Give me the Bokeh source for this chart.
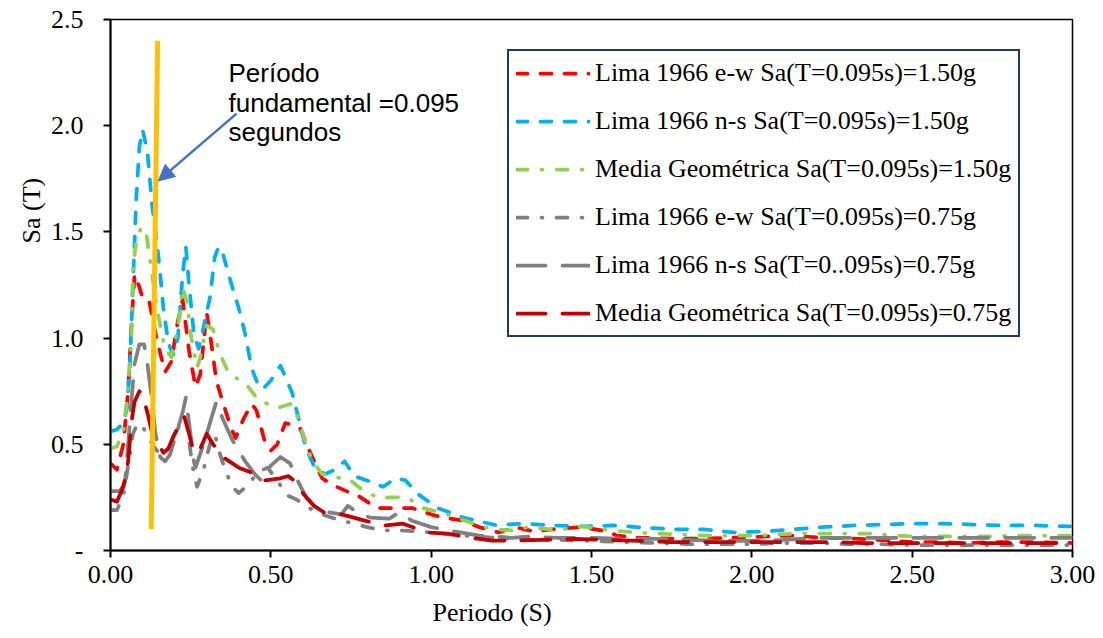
import math
from bokeh.plotting import figure
from bokeh.models import Range1d, FixedTicker, Label, Arrow, NormalHead, NumeralTickFormatter, Title
from bokeh.embed import file_html
from bokeh.resources import INLINE

# ---------------- data ----------------
t_ew150 = [0.00, 0.02, 0.04, 0.055, 0.065, 0.075, 0.09, 0.10, 0.12, 0.13, 0.145, 0.17, 0.19, 0.21, 0.225,
           0.245, 0.265, 0.28, 0.30, 0.315, 0.33, 0.35, 0.375, 0.39, 0.415, 0.44, 0.455, 0.48, 0.50, 0.52,
           0.545, 0.57, 0.59, 0.62, 0.66, 0.69, 0.75, 0.77, 0.83, 0.94, 1.01, 1.04, 1.10, 1.15, 1.21, 1.26,
           1.32, 1.38, 1.47, 1.55, 1.58, 1.65, 1.75, 1.85, 1.94, 2.04, 2.13, 2.22, 2.32, 2.43, 2.50, 2.59,
           2.67, 2.75, 2.86, 3.00]
sa_ew150 = [0.41, 0.38, 0.50, 0.75, 1.05, 1.30, 1.24, 1.19, 1.18, 1.10, 0.99, 0.84, 0.89, 1.08, 1.18,
            0.94, 0.77, 0.83, 1.12, 0.97, 0.80, 0.70, 0.58, 0.53, 0.62, 0.69, 0.66, 0.52, 0.47, 0.50,
            0.60, 0.59, 0.58, 0.47, 0.34, 0.31, 0.27, 0.26, 0.20, 0.20, 0.165, 0.155, 0.14, 0.11, 0.085, 0.11,
            0.09, 0.10, 0.11, 0.09, 0.07, 0.06, 0.056, 0.056, 0.06, 0.066, 0.07, 0.06, 0.056, 0.047, 0.04, 0.04,
            0.035, 0.04, 0.04, 0.035]

t_ns150 = [0.00, 0.02, 0.04, 0.05, 0.06, 0.07, 0.08, 0.09, 0.10, 0.115, 0.13, 0.145, 0.155, 0.165, 0.18,
           0.195, 0.21, 0.225, 0.235, 0.245, 0.26, 0.275, 0.29, 0.31, 0.325, 0.337, 0.35, 0.374, 0.40, 0.42,
           0.44, 0.46, 0.475, 0.50, 0.53, 0.55, 0.567, 0.59, 0.61, 0.64, 0.67, 0.70, 0.73, 0.76, 0.80, 0.85,
           0.89, 0.92, 0.955, 1.02, 1.10, 1.20, 1.29, 1.38, 1.475, 1.57, 1.66, 1.755, 1.85, 1.94, 2.04, 2.13,
           2.22, 2.32, 2.41, 2.50, 2.60, 2.69, 2.78, 2.88, 3.00]
sa_ns150 = [0.56, 0.57, 0.60, 0.66, 0.85, 1.25, 1.65, 1.90, 1.98, 1.88, 1.62, 1.45, 1.30, 1.14, 0.98,
            0.92, 1.00, 1.30, 1.43, 1.25, 1.02, 0.95, 1.05, 1.19, 1.38, 1.43, 1.40, 1.27, 1.14, 1.02,
            0.86, 0.78, 0.76, 0.80, 0.87, 0.80, 0.74, 0.60, 0.48, 0.38, 0.36, 0.38, 0.42, 0.35, 0.33, 0.30,
            0.34, 0.33, 0.27, 0.20, 0.155, 0.12, 0.127, 0.118, 0.113, 0.118, 0.108, 0.10, 0.10, 0.085, 0.09, 0.10,
            0.11, 0.118, 0.122, 0.127, 0.127, 0.122, 0.118, 0.118, 0.113]

t_gm150 = [0.00, 0.02, 0.04, 0.05, 0.06, 0.065, 0.07, 0.08, 0.095, 0.11, 0.12, 0.13, 0.145, 0.16, 0.17,
           0.19, 0.21, 0.225, 0.24, 0.25, 0.27, 0.28, 0.30, 0.32, 0.34, 0.37, 0.42, 0.46, 0.52, 0.56, 0.575,
           0.59, 0.61, 0.63, 0.66, 0.72, 0.74, 0.79, 0.84, 0.87, 0.925, 0.975, 1.05, 1.13, 1.19, 1.26, 1.30,
           1.37, 1.41, 1.47, 1.49, 1.56, 1.64, 1.71, 1.78, 1.85, 1.93, 2.00, 2.08, 2.14, 2.22, 2.30, 2.38,
           2.44, 2.52, 2.59, 2.67, 2.73, 2.82, 2.89, 3.00]
sa_gm150 = [0.48, 0.49, 0.56, 0.69, 0.89, 0.99, 1.33, 1.45, 1.52, 1.51, 1.40, 1.30, 1.14, 1.02, 0.95,
            0.91, 1.05, 1.24, 1.16, 1.02, 0.86, 0.91, 1.06, 1.04, 0.93, 0.83, 0.79, 0.71, 0.67, 0.69, 0.66,
            0.60, 0.50, 0.42, 0.36, 0.34, 0.34, 0.28, 0.245, 0.25, 0.25, 0.20, 0.17, 0.127, 0.10, 0.094, 0.11,
            0.10, 0.10, 0.113, 0.11, 0.094, 0.085, 0.08, 0.075, 0.07, 0.07, 0.07, 0.075, 0.08, 0.08, 0.08, 0.08,
            0.07, 0.066, 0.066, 0.066, 0.066, 0.07, 0.07, 0.07]

t_ew075 = [0.00, 0.02, 0.04, 0.05, 0.06, 0.07, 0.085, 0.10, 0.115, 0.13, 0.15, 0.17, 0.19, 0.22, 0.24,
           0.255, 0.27, 0.29, 0.31, 0.325, 0.34, 0.36, 0.38, 0.40, 0.43, 0.46, 0.49, 0.52, 0.55, 0.58, 0.62,
           0.66, 0.70, 0.75, 0.80, 0.85, 0.90, 0.95, 1.00, 1.10, 1.20, 1.30, 1.40, 1.50, 1.60, 1.70, 1.80,
           1.90, 2.00, 2.10, 2.20, 2.30, 2.40, 2.50, 2.60, 2.70, 2.80, 2.90, 3.00]
sa_ew075 = [0.19, 0.19, 0.26, 0.35, 0.45, 0.55, 0.60, 0.58, 0.55, 0.50, 0.46, 0.45, 0.52, 0.60, 0.58,
            0.40, 0.30, 0.38, 0.50, 0.55, 0.46, 0.37, 0.30, 0.27, 0.31, 0.37, 0.39, 0.33, 0.26, 0.24, 0.20,
            0.17, 0.15, 0.13, 0.11, 0.095, 0.095, 0.09, 0.085, 0.07, 0.06, 0.05, 0.05, 0.045, 0.04, 0.035, 0.03,
            0.03, 0.03, 0.035, 0.035, 0.03, 0.03, 0.025, 0.025, 0.025, 0.025, 0.025, 0.025]

t_ns075 = [0.00, 0.03, 0.045, 0.055, 0.065, 0.075, 0.09, 0.105, 0.115, 0.13, 0.14, 0.155, 0.17, 0.185,
           0.205, 0.225, 0.235, 0.245, 0.26, 0.265, 0.29, 0.31, 0.33, 0.35, 0.38, 0.42, 0.45, 0.47, 0.50,
           0.53, 0.56, 0.58, 0.61, 0.635, 0.68, 0.72, 0.74, 0.78, 0.81, 0.87, 0.90, 0.94, 1.00, 1.09, 1.15,
           1.25, 1.30, 1.40, 1.50, 1.60, 1.70, 1.80, 1.90, 2.00, 2.10, 2.20, 2.30, 2.40, 2.50, 2.60, 2.70,
           2.80, 2.90, 3.00]
sa_ns075 = [0.28, 0.28, 0.32, 0.50, 0.70, 0.88, 0.97, 0.97, 0.88, 0.70, 0.55, 0.44, 0.42, 0.45,
            0.55, 0.65, 0.72, 0.60, 0.42, 0.39, 0.50, 0.60, 0.70, 0.62, 0.52, 0.42, 0.36, 0.33, 0.40,
            0.44, 0.41, 0.34, 0.25, 0.21, 0.18, 0.17, 0.21, 0.17, 0.155, 0.15, 0.18, 0.14, 0.11, 0.085, 0.07,
            0.06, 0.065, 0.06, 0.06, 0.055, 0.055, 0.05, 0.045, 0.045, 0.05, 0.06, 0.06, 0.06, 0.06, 0.06, 0.06,
            0.06, 0.06, 0.06]

t_gm075 = [0.00, 0.02, 0.04, 0.055, 0.065, 0.075, 0.09, 0.10, 0.115, 0.13, 0.15, 0.165, 0.18, 0.20, 0.23,
           0.245, 0.26, 0.28, 0.30, 0.32, 0.35, 0.38, 0.40, 0.45, 0.48, 0.53, 0.555, 0.58, 0.60, 0.635, 0.665,
           0.72, 0.77, 0.82, 0.86, 0.91, 0.96, 0.99, 1.05, 1.12, 1.19, 1.25, 1.35, 1.45, 1.55, 1.65, 1.75,
           1.85, 1.95, 2.05, 2.15, 2.25, 2.35, 2.45, 2.55, 2.65, 2.75, 2.85, 3.00]
sa_gm075 = [0.24, 0.23, 0.30, 0.42, 0.60, 0.70, 0.75, 0.73, 0.65, 0.55, 0.50, 0.46, 0.48, 0.55, 0.63,
            0.55, 0.46, 0.48, 0.55, 0.50, 0.44, 0.41, 0.39, 0.36, 0.33, 0.34, 0.35, 0.32, 0.27, 0.21, 0.18,
            0.17, 0.15, 0.13, 0.118, 0.127, 0.10, 0.085, 0.08, 0.06, 0.047, 0.047, 0.05, 0.055, 0.05, 0.045, 0.04,
            0.04, 0.04, 0.04, 0.04, 0.04, 0.035, 0.035, 0.035, 0.035, 0.035, 0.035, 0.035]

series_labels = [
    "Lima 1966 e-w Sa(T=0.095s)=1.50g",
    "Lima 1966 n-s Sa(T=0.095s)=1.50g",
    "Media Geométrica Sa(T=0.095s)=1.50g",
    "Lima 1966 e-w Sa(T=0.095s)=0.75g",
    "Lima 1966 n-s Sa(T=0..095s)=0.75g",
    "Media Geométrica Sa(T=0.095s)=0.75g",
]
x_ticks = [0.0, 0.5, 1.0, 1.5, 2.0, 2.5, 3.0]
y_ticks = [0.0, 0.5, 1.0, 1.5, 2.0, 2.5]
x_title = "Periodo (S)"
y_title = "Sa (T)"

# fundamental period marker line and annotation
marker_x = [0.127, 0.147]
marker_y = [0.10, 2.40]
note_lines = ["Período", "fundamental =0.095", "segundos"]

# ---------------- figure ----------------
p = figure(width=1103, height=638, output_backend="svg", toolbar_location=None,
           x_range=Range1d(0, 3), y_range=Range1d(0, 2.5),
           min_border_left=110, min_border_right=31, min_border_top=19, min_border_bottom=88)
p.background_fill_color = "white"
p.border_fill_color = "white"
p.grid.visible = False
p.outline_line_color = "black"
p.outline_line_width = 1.5

p.xaxis.ticker = FixedTicker(ticks=x_ticks)
p.yaxis.ticker = FixedTicker(ticks=y_ticks)
p.xaxis.formatter = NumeralTickFormatter(format="0.00")
p.yaxis.formatter = NumeralTickFormatter(format="0.0")
p.yaxis.major_label_overrides = {0: "-"}
for ax in (p.xaxis, p.yaxis):
    ax.axis_line_color = "black"
    ax.axis_line_width = 2
    ax.major_tick_line_color = "black"
    ax.major_tick_line_width = 2
    ax.major_tick_in = 0
    ax.major_tick_out = 7
    ax.minor_tick_out = 0
    ax.minor_tick_in = 0
    ax.major_label_text_font = "Liberation Serif"
    ax.major_label_text_font_size = "26px"
    ax.major_label_text_color = "black"
p.yaxis.major_label_standoff = 20
p.xaxis.major_label_standoff = 8

# axis titles placed off-centre like the reference
p.add_layout(Title(text=x_title, align="left", offset=322, standoff=21,
                   text_font="Liberation Serif", text_font_size="26px",
                   text_font_style="normal", text_color="black"), "below")
p.add_layout(Title(text=y_title, align="left", offset=307, standoff=4,
                   text_font="Liberation Serif", text_font_size="26px",
                   text_font_style="normal", text_color="black"), "left")

styles = [
    dict(color="#FF0000", dash="11 13"),
    dict(color="#00B0F0", dash="11 13"),
    dict(color="#92D050", dash="11 14 1 14"),
    dict(color="#808080", dash="11 14 1 14"),
    dict(color="#808080", dash="29 17"),
    dict(color="#C00000", dash="29 17"),
]
data = [(t_ew150, sa_ew150), (t_ns150, sa_ns150), (t_gm150, sa_gm150),
        (t_ew075, sa_ew075), (t_ns075, sa_ns075), (t_gm075, sa_gm075)]
for (tx, sy), st, lab in zip(data, styles, series_labels):
    p.line(tx, sy, line_color=st["color"], line_width=3.75, line_dash=st["dash"],
           line_cap="round", line_join="round", legend_label=lab)

# yellow marker line
p.line(marker_x, marker_y, line_color="#FFC000", line_width=5)

# arrow
p.add_layout(Arrow(end=NormalHead(size=16, fill_color="#4472C4", line_color="#4472C4"),
                   x_start=0.393, y_start=2.057, x_end=0.149, y_end=1.74,
                   line_color="#4472C4", line_width=2.5))

for i, txt in enumerate(note_lines):
    p.add_layout(Label(x=0.368, y=2.246 - i * 0.139, text=txt, text_font="Liberation Sans",
                       text_font_size="26px", text_baseline="middle", text_align="left",
                       text_color="black"))

lg = p.legend[0]
lg.location = (397, 213)
lg.label_text_font = "Liberation Serif"
lg.label_text_font_size = "26px"
lg.label_text_color = "black"
lg.glyph_width = 74
lg.glyph_height = 24
lg.label_height = 24
lg.label_standoff = 5
lg.spacing = 18
lg.padding = 7
lg.margin = 0
lg.border_line_color = "#1F3864"
lg.border_line_width = 2
lg.border_line_alpha = 1
lg.background_fill_alpha = 1

open("out.html", "w").write(file_html(p, INLINE))
